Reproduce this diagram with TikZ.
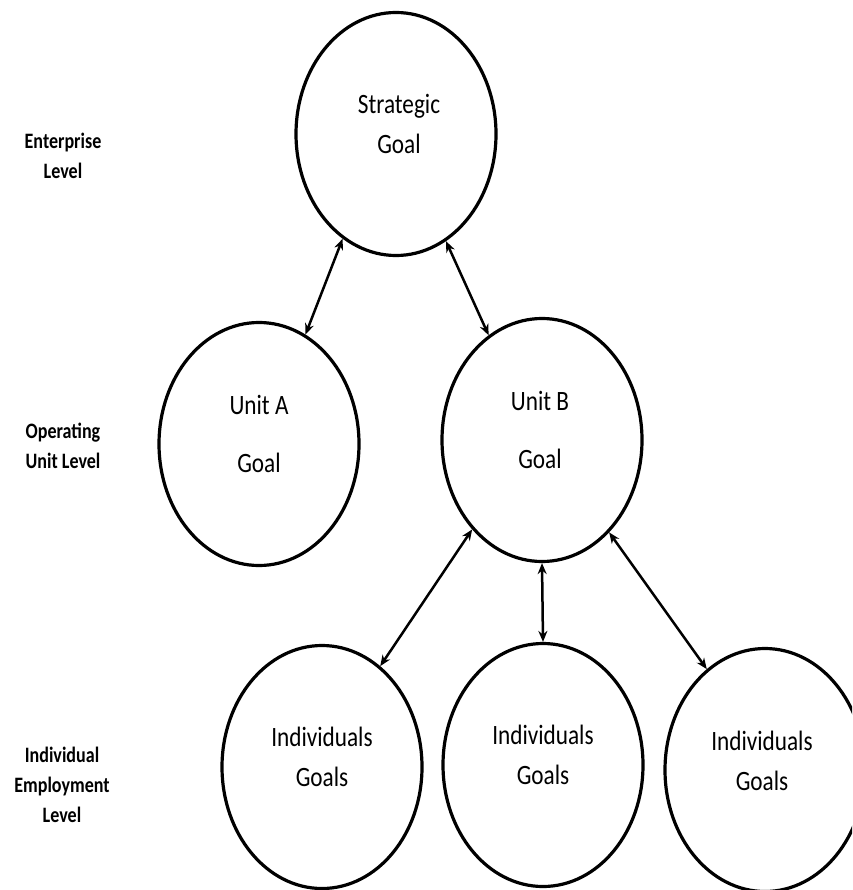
\documentclass[tikz,border=0pt]{standalone}
\usepackage{fontspec}
\usepackage{graphicx}
\setmainfont{Carlito}
\usetikzlibrary{shapes.geometric,arrows.meta}
\newcommand\sqz[2]{\scalebox{#1}[1]{\begin{tabular}[t]{@{}c@{}}#2\end{tabular}}}
\tikzset{
  goal/.style={draw=black, line width=3.2pt, ellipse, inner sep=0pt,
    minimum width=200pt, minimum height=243pt},
  goaltext/.style={anchor=base, inner sep=0pt, font=\fontsize{28}{40}\selectfont},
  goaltextwide/.style={anchor=base, inner sep=0pt, font=\fontsize{28}{58}\selectfont},
  lvl/.style={anchor=base, inner sep=0pt, font=\fontsize{22}{30}\selectfont\bfseries},
  conn/.style={line width=2.5pt, {Stealth[length=11pt,width=9pt]}-{Stealth[length=11pt,width=9pt]}}
}
\begin{document}
\begin{tikzpicture}[x=1pt,y=-1pt]
\useasboundingbox (0,0) rectangle (852,890);
\clip (0,0) rectangle (852,890);
\fill[white] (0,0) rectangle (852,890);
% ellipses
\node[goal] (S)  at (396,134) {};
\node[goal] (A)  at (259,444) {};
\node[goal] (B)  at (542,440) {};
\node[goal] (I1) at (322,767) {};
\node[goal] (I2) at (543,765) {};
\node[goal] (I3) at (765,770) {};
% texts
\node[goaltext] (tS) at (399,114) {\sqz{0.83}{Strategic\\Goal}};
\node[goaltextwide] (tA) at (259,414) {\sqz{0.83}{Unit A\\Goal}};
\node[goaltextwide] (tB) at (540,410) {\sqz{0.83}{Unit B\\Goal}};
\node[goaltext] (t1) at (322,746) {\sqz{0.83}{Individuals\\Goals}};
\node[goaltext] (t2) at (543,744) {\sqz{0.83}{Individuals\\Goals}};
\node[goaltext] (t3) at (762,750) {\sqz{0.83}{Individuals\\Goals}};
% level labels
\node[lvl] (L1) at (63,149) {\sqz{0.82}{Enterprise\\Level}};
\node[lvl] (L2) at (63,438) {\sqz{0.82}{Operating\\Unit Level}};
\node[lvl] (L3) at (62,762) {\sqz{0.82}{Individual\\Employment\\Level}};
% connectors
\draw[conn] (S.243) -- (A.67);
\draw[conn] (S.295) -- (B.117);
\draw[conn] (B.232) -- (I1.60);
\draw[conn] (B.270) -- (I2.90);
\draw[conn] (B.306) -- (I3.120);
\end{tikzpicture}
\end{document}
